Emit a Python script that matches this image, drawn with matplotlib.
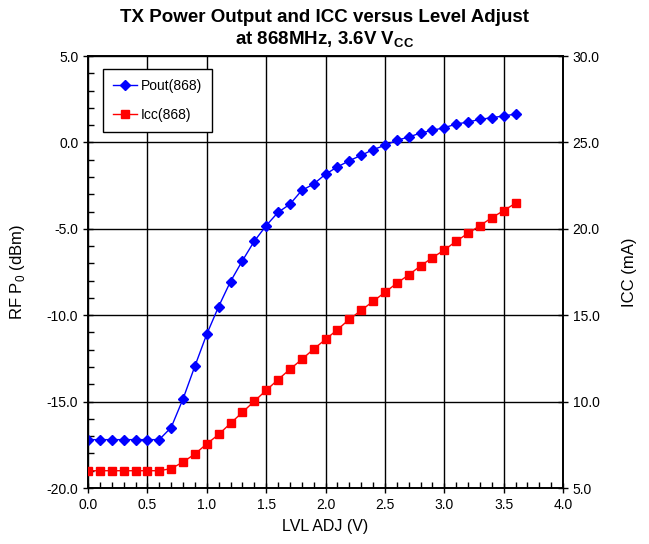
import matplotlib.pyplot as plt
import numpy as np

plt.rcParams['font.family'] = ['Liberation Sans', 'DejaVu Sans']
plt.rcParams['mathtext.fontset'] = 'custom'
plt.rcParams['mathtext.rm'] = 'Liberation Sans'
plt.rcParams['mathtext.bf'] = 'Liberation Sans:bold'

# LVL ADJ (V)
lvl_adj = [0.0, 0.1, 0.2, 0.3, 0.4, 0.5, 0.6, 0.7, 0.8, 0.9,
           1.0, 1.1, 1.2, 1.3, 1.4, 1.5, 1.6, 1.7, 1.8, 1.9,
           2.0, 2.1, 2.2, 2.3, 2.4, 2.5, 2.6, 2.7, 2.8, 2.9,
           3.0, 3.1, 3.2, 3.3, 3.4, 3.5, 3.6]
# RF output power (dBm)
pout_868 = [-17.2, -17.2, -17.2, -17.2, -17.2, -17.2, -17.2, -16.5, -14.85, -12.95,
            -11.1, -9.5, -8.05, -6.85, -5.72, -4.82, -4.05, -3.58, -2.78, -2.41,
            -1.84, -1.42, -1.06, -0.75, -0.42, -0.17, 0.12, 0.31, 0.54, 0.70,
            0.85, 1.06, 1.18, 1.33, 1.43, 1.53, 1.64]
# supply current (mA)
icc_868 = [6.0, 6.0, 6.0, 6.0, 6.0, 6.0, 6.0, 6.12, 6.5, 6.97,
           7.55, 8.1, 8.74, 9.38, 10.02, 10.65, 11.27, 11.87, 12.44, 13.04,
           13.6, 14.16, 14.76, 15.28, 15.8, 16.32, 16.85, 17.33, 17.85, 18.33,
           18.77, 19.28, 19.74, 20.18, 20.64, 21.05, 21.48]

fig = plt.figure(figsize=(6.49, 5.44), dpi=100)
ax = fig.add_axes([88 / 649, 1 - 488 / 544, 475 / 649, 432 / 544])
ax2 = ax.twinx()

l1, = ax.plot(lvl_adj, pout_868, color="#0000FF", marker="D", markersize=5,
              lw=1, label="Pout(868)", zorder=3)
l2, = ax2.plot(lvl_adj, icc_868, color="#FF0000", marker="s", markersize=6,
               lw=1, label="Icc(868)", zorder=3)

ax.set_xlim(0, 4)
ax.set_ylim(-20, 5)
ax2.set_ylim(5, 30)
ax.set_xticks(np.arange(0, 4.01, 0.5))
ax.set_xticks(np.arange(0, 4.01, 0.1), minor=True)
ax.set_yticks(np.arange(-20, 5.01, 5))
ax.set_yticks(np.arange(-20, 5.01, 1), minor=True)
ax2.set_yticks(np.arange(5, 30.01, 5))
ax.xaxis.set_major_formatter(plt.FormatStrFormatter("%.1f"))
ax.yaxis.set_major_formatter(plt.FormatStrFormatter("%.1f"))
ax2.yaxis.set_major_formatter(plt.FormatStrFormatter("%.1f"))

ax.grid(which="major", color="black", lw=1)
ax.set_axisbelow(True)
ax.tick_params(which="major", direction="inout", length=7, width=1, labelsize=10)
ax.tick_params(which="minor", direction="in", length=4, width=1)
ax2.tick_params(which="major", direction="inout", length=7, width=1, labelsize=10)
for a in (ax, ax2):
    for s in a.spines.values():
        s.set_linewidth(1.2)

ax.set_xlabel("LVL ADJ (V)", fontsize=11.5, labelpad=5)
ax.set_ylabel(r"RF P$_0$ (dBm)", fontsize=12, labelpad=14)
ax2.set_ylabel("ICC (mA)", fontsize=12, labelpad=16)

fig.text(0.5, 1 - 17 / 544, "TX Power Output and ICC versus Level Adjust",
         ha="center", va="center", fontsize=13.5, fontweight="bold")
fig.text(0.5, 1 - 40 / 544, r"at 868MHz, 3.6V V$_{\mathbf{CC}}$",
         ha="center", va="center", fontsize=13.5, fontweight="bold")

leg = ax.legend(handles=[l1, l2], loc="upper left", bbox_to_anchor=(0.032, 0.97),
                fancybox=False, edgecolor="black", framealpha=1, fontsize=10,
                borderpad=0.7, labelspacing=1.1, handlelength=1.7,
                handletextpad=0.3, borderaxespad=0)
leg.get_frame().set_linewidth(1)

fig.savefig("out.png", dpi=100)
